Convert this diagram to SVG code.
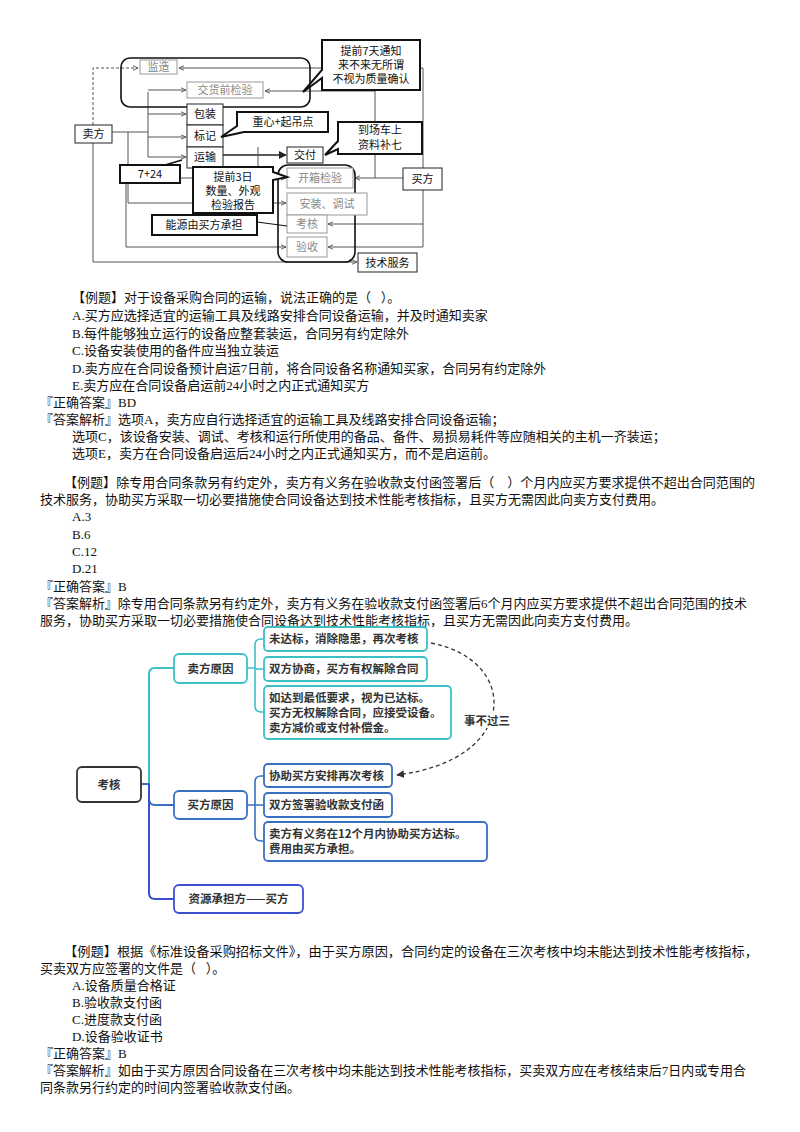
<svg xmlns="http://www.w3.org/2000/svg" width="800" height="1132" viewBox="0 0 800 1132">
<defs>
<marker id="ah" viewBox="0 0 10 10" refX="9" refY="5" markerWidth="6" markerHeight="6" orient="auto"><path d="M0,1 L9,5 L0,9" fill="none" stroke="#555" stroke-width="1.5"/></marker>
<marker id="ahb" viewBox="0 0 10 10" refX="9" refY="5" markerWidth="5" markerHeight="5" orient="auto"><path d="M0,0 L10,5 L0,10 z" fill="#222"/></marker>
<marker id="ahd" viewBox="0 0 10 10" refX="9" refY="5" markerWidth="6" markerHeight="6" orient="auto"><path d="M0,0 L10,5 L0,10 z" fill="#333"/></marker>
</defs>
<style>
.t{font-family:"Liberation Serif","Noto Sans CJK SC",serif;font-size:13px;fill:#111}
.d{font-family:"Noto Sans CJK SC",sans-serif;font-size:11px;fill:#111}
.g{fill:#888}
.bx{fill:#fff;stroke:#222;stroke-width:1}
.gb{fill:#fff;stroke:#999;stroke-width:1}
.tb{fill:#fff;stroke:#111;stroke-width:2}
.ln{fill:none;stroke:#555;stroke-width:1}
.m{font-family:"Noto Sans CJK SC",sans-serif;font-size:11.5px;font-weight:bold;fill:#333}
.teal{fill:#fff;stroke:#3cc0c8;stroke-width:1.8}
.blue{fill:#fff;stroke:#3a6fc0;stroke-width:1.8}
.vio{fill:#fff;stroke:#3a4fd0;stroke-width:1.8}
</style>
<g id="connectors">
<path class="ln" d="M93,125 V68 H138" stroke-dasharray="3,2" stroke="#222" marker-end="url(#ah)"/>
<path class="ln" d="M112,132 H148 M148,92 V157" />
<path class="ln" d="M148,90 H186" marker-end="url(#ah)"/>
<path class="ln" d="M148,114 H186" marker-end="url(#ah)"/>
<path class="ln" d="M148,137 H186" marker-end="url(#ah)"/>
<path class="ln" d="M148,157 H186" marker-end="url(#ah)"/>
<path class="ln" d="M128,132 V203 H286" marker-end="url(#ah)"/>
<path class="ln" d="M126,183 V247 H286" marker-end="url(#ah)"/>
<path class="ln" d="M93,143 V262 H357" marker-end="url(#ah)"/>
<path fill="none" stroke="#222" stroke-width="1.6" d="M223,155 H286" marker-end="url(#ahb)"/>
<path class="ln" stroke="#222" d="M258,147 V172"/>
<path class="ln" d="M180,178 H286" marker-end="url(#ah)"/>
<path class="ln" d="M403,178 H355" marker-end="url(#ah)"/>
<path class="ln" d="M375,178 V91 H265" marker-end="url(#ah)"/>
<path class="ln" d="M423,168 V68 H179" marker-end="url(#ah)"/>
<path class="ln" d="M423,190 V224 H328" marker-end="url(#ah)"/>
<path class="ln" d="M423,247 H328" marker-end="url(#ah)"/>
<path class="ln" d="M423,224 V247"/>
<path d="M141,784 H149 V674 Q149,668 155,668 H174" fill="none" stroke="#3cc0c8" stroke-width="2"/>
<path d="M141,784 H149 V799 Q149,805 155,805 H174" fill="none" stroke="#3a6fc0" stroke-width="2"/>
<path d="M149,784 V893 Q149,899 155,899 H174" fill="none" stroke="#3a4fd0" stroke-width="2"/>
<path d="M247,668 H255 M264,639 H261 Q255,639 255,645 V706 Q255,712 261,712 H264 M255,669 H264" fill="none" stroke="#3cc0c8" stroke-width="1.6"/>
<path d="M247,805 H255 M264,776 H261 Q255,776 255,782 V835 Q255,841 261,841 H264 M255,805 H264" fill="none" stroke="#3a6fc0" stroke-width="1.6"/>
<path d="M431,643 C520,660 520,760 397,775" fill="none" stroke="#333" stroke-width="1.3" stroke-dasharray="4,3" marker-end="url(#ahd)"/>
</g>
<g id="big1"><rect x="121" y="58" width="189" height="49" rx="9" fill="none" stroke="#111" stroke-width="1.6"/></g>
<g id="big2"><rect x="278" y="165" width="77" height="97" rx="10" fill="none" stroke="#111" stroke-width="1.6"/></g>
<g id="maifang"><rect class="bx" x="75" y="125" width="37" height="18"/><text class="d" x="93.5" y="138" text-anchor="middle">卖方</text></g>
<g id="jianzao"><rect class="gb" x="140" y="60" width="37" height="14"/><text class="d g" x="158.5" y="71" text-anchor="middle">监造</text></g>
<g id="jiaohuoqian"><rect class="gb" x="187" y="82" width="76" height="16"/><text class="d g" x="225" y="94" text-anchor="middle">交货前检验</text></g>
<g id="baozhuang"><rect class="bx" x="187" y="104" width="36" height="21"/><text class="d" x="205" y="118" text-anchor="middle">包装</text></g>
<g id="biaoji"><rect class="bx" x="187" y="125" width="36" height="22"/><text class="d" x="205" y="140" text-anchor="middle">标记</text></g>
<g id="yunshu"><rect class="bx" x="187" y="147" width="36" height="21"/><text class="d" x="205" y="161" text-anchor="middle">运输</text></g>
<g id="jiaofu"><rect class="bx" x="287" y="147" width="36" height="16"/><text class="d" x="305" y="159" text-anchor="middle">交付</text></g>
<g id="kaixiang"><rect class="gb" x="287" y="168" width="66" height="20"/><text class="d g" x="320" y="182" text-anchor="middle">开箱检验</text></g>
<g id="anzhuang"><rect class="gb" x="287" y="193" width="80" height="22"/><text class="d g" x="327" y="208" text-anchor="middle">安装、调试</text></g>
<g id="kaohe1"><rect class="gb" x="287" y="215" width="40" height="18"/><text class="d g" x="307" y="228" text-anchor="middle">考核</text></g>
<g id="yanshou"><rect class="gb" x="287" y="237" width="40" height="20"/><text class="d g" x="307" y="251" text-anchor="middle">验收</text></g>
<g id="mai2"><rect class="bx" x="403" y="168" width="39" height="22"/><text class="d" x="422.5" y="183" text-anchor="middle">买方</text></g>
<g id="jishu"><rect class="bx" x="358" y="253" width="59" height="19"/><text class="d" x="387.5" y="267" text-anchor="middle">技术服务</text></g>
<g id="c7days"><path d="M322,40 H420 V90 H322 V78 L303,92 L322,70 Z" class="tb"/><text class="d" x="371" y="55" text-anchor="middle">提前7天通知</text><text class="d" x="371" y="69" text-anchor="middle">来不来无所谓</text><text class="d" x="371" y="83" text-anchor="middle">不视为质量确认</text></g>
<g id="czhongxin"><path d="M237,112 H328 V132 H244 L221,137 L237,126 Z" class="tb"/><text class="d" x="283" y="126" text-anchor="middle">重心+起吊点</text></g>
<g id="cdaochang"><path d="M338,122 H422 V154 H338 V149 L325,155 L338,141 Z" class="tb"/><text class="d" x="380" y="134" font-size="10.5" text-anchor="middle">到场车上</text><text class="d" x="380" y="149" font-size="10.5" text-anchor="middle">资料补七</text></g>
<g id="c724"><path d="M120,165 H180 V183 H120 Z" class="tb"/><path d="M165,165 L182,160" stroke="#111" stroke-width="1.5"/><text class="d" x="150" y="178" text-anchor="middle">7+24</text></g>
<g id="c3days"><path d="M193,167 H273 V172 L287,177 L273,180 V213 H193 Z" class="tb"/><text class="d" x="233" y="181" text-anchor="middle">提前3日</text><text class="d" x="233" y="195" text-anchor="middle">数量、外观</text><text class="d" x="233" y="209" text-anchor="middle">检验报告</text></g>
<g id="cnengyuan"><path d="M152,215 H257 V235 H152 Z" class="tb"/><path d="M257,222 L287,226" stroke="#111" stroke-width="1.2"/><text class="d" x="204" y="229" text-anchor="middle">能源由买方承担</text></g>

<g id="text1">
<text class="t" x="72" y="302">【例题】对于设备采购合同的运输，说法正确的是（&#160;&#160;&#160;）。</text>
<text class="t" x="72" y="320">A.买方应选择适宜的运输工具及线路安排合同设备运输，并及时通知卖家</text>
<text class="t" x="72" y="338">B.每件能够独立运行的设备应整套装运，合同另有约定除外</text>
<text class="t" x="72" y="355">C.设备安装使用的备件应当独立装运</text>
<text class="t" x="72" y="373">D.卖方应在合同设备预计启运7日前，将合同设备名称通知买家，合同另有约定除外</text>
<text class="t" x="72" y="390">E.卖方应在合同设备启运前24小时之内正式通知买方</text>
<text class="t" x="40" y="407">『正确答案』BD</text>
<text class="t" x="40" y="424">『答案解析』选项A，卖方应自行选择适宜的运输工具及线路安排合同设备运输；</text>
<text class="t" x="72" y="441">选项C，该设备安装、调试、考核和运行所使用的备品、备件、易损易耗件等应随相关的主机一齐装运；</text>
<text class="t" x="72" y="458">选项E，卖方在合同设备启运后24小时之内正式通知买方，而不是启运前。</text>
<text class="t" x="64" y="487" textLength="691" lengthAdjust="spacingAndGlyphs">【例题】除专用合同条款另有约定外，卖方有义务在验收款支付函签署后（&#160;&#160;&#160;&#160;）个月内应买方要求提供不超出合同范围的</text>
<text class="t" x="40" y="504">技术服务，协助买方采取一切必要措施使合同设备达到技术性能考核指标，且买方无需因此向卖方支付费用。</text>
<text class="t" x="72" y="521">A.3</text>
<text class="t" x="72" y="539">B.6</text>
<text class="t" x="72" y="556">C.12</text>
<text class="t" x="72" y="573">D.21</text>
<text class="t" x="40" y="591">『正确答案』B</text>
<text class="t" x="40" y="608" textLength="707" lengthAdjust="spacingAndGlyphs">『答案解析』除专用合同条款另有约定外，卖方有义务在验收款支付函签署后6个月内应买方要求提供不超出合同范围的技术</text>
<text class="t" x="40" y="625">服务，协助买方采取一切必要措施使合同设备达到技术性能考核指标，且买方无需因此向卖方支付费用。</text>
<text class="t" x="64" y="956" textLength="694" lengthAdjust="spacingAndGlyphs">【例题】根据《标准设备采购招标文件》，由于买方原因，合同约定的设备在三次考核中均未能达到技术性能考核指标，</text>
<text class="t" x="40" y="973">买卖双方应签署的文件是（&#160;&#160;&#160;）。</text>
<text class="t" x="72" y="990">A.设备质量合格证</text>
<text class="t" x="72" y="1007">B.验收款支付函</text>
<text class="t" x="72" y="1024">C.进度款支付函</text>
<text class="t" x="72" y="1041">D.设备验收证书</text>
<text class="t" x="40" y="1058">『正确答案』B</text>
<text class="t" x="40" y="1075" textLength="706" lengthAdjust="spacingAndGlyphs">『答案解析』如由于买方原因合同设备在三次考核中均未能达到技术性能考核指标，买卖双方应在考核结束后7日内或专用合</text>
<text class="t" x="40" y="1092">同条款另行约定的时间内签署验收款支付函。</text>
</g>

<g id="kaohe"><rect x="77" y="767" width="64" height="35" rx="5" fill="#fff" stroke="#333" stroke-width="1.8"/><text class="m" x="109" y="789" text-anchor="middle">考核</text></g>
<g id="maifangyuanyin"><rect class="teal" x="174" y="654" width="73" height="29" rx="5"/><text class="m" x="210.5" y="673" text-anchor="middle">卖方原因</text></g>
<g id="maifangyuanyin2"><rect class="blue" x="174" y="791" width="73" height="28" rx="5"/><text class="m" x="210.5" y="809" text-anchor="middle">买方原因</text></g>
<g id="ziyuan"><rect class="vio" x="174" y="885" width="129" height="28" rx="5"/><text class="m" x="238.5" y="903" text-anchor="middle">资源承担方——买方</text></g>
<g id="n1"><rect class="teal" x="264" y="627" width="163" height="24" rx="4"/><text class="m" x="269" y="643">未达标，消除隐患，再次考核</text></g>
<g id="n2"><rect class="teal" x="264" y="657" width="163" height="24" rx="4"/><text class="m" x="269" y="673">双方协商，买方有权解除合同</text></g>
<g id="n3"><rect class="teal" x="264" y="686" width="187" height="53" rx="4"/><text class="m" x="269" y="702">如达到最低要求，视为已达标。</text><text class="m" x="269" y="717">买方无权解除合同，应接受设备。</text><text class="m" x="269" y="732">卖方减价或支付补偿金。</text></g>
<g id="n4"><rect class="blue" x="264" y="764" width="128" height="23" rx="4"/><text class="m" x="269" y="780">协助买方安排再次考核</text></g>
<g id="n5"><rect class="blue" x="264" y="793" width="128" height="24" rx="4"/><text class="m" x="269" y="809">双方签署验收款支付函</text></g>
<g id="n6"><rect class="blue" x="264" y="822" width="223" height="39" rx="4"/><text class="m" x="269" y="838">卖方有义务在12个月内协助买方达标。</text><text class="m" x="269" y="853">费用由买方承担。</text></g>
<g id="sbgs"><rect x="463" y="712" width="48" height="16" fill="#fff"/><text class="m" x="487" y="725" text-anchor="middle">事不过三</text></g>
</svg>
